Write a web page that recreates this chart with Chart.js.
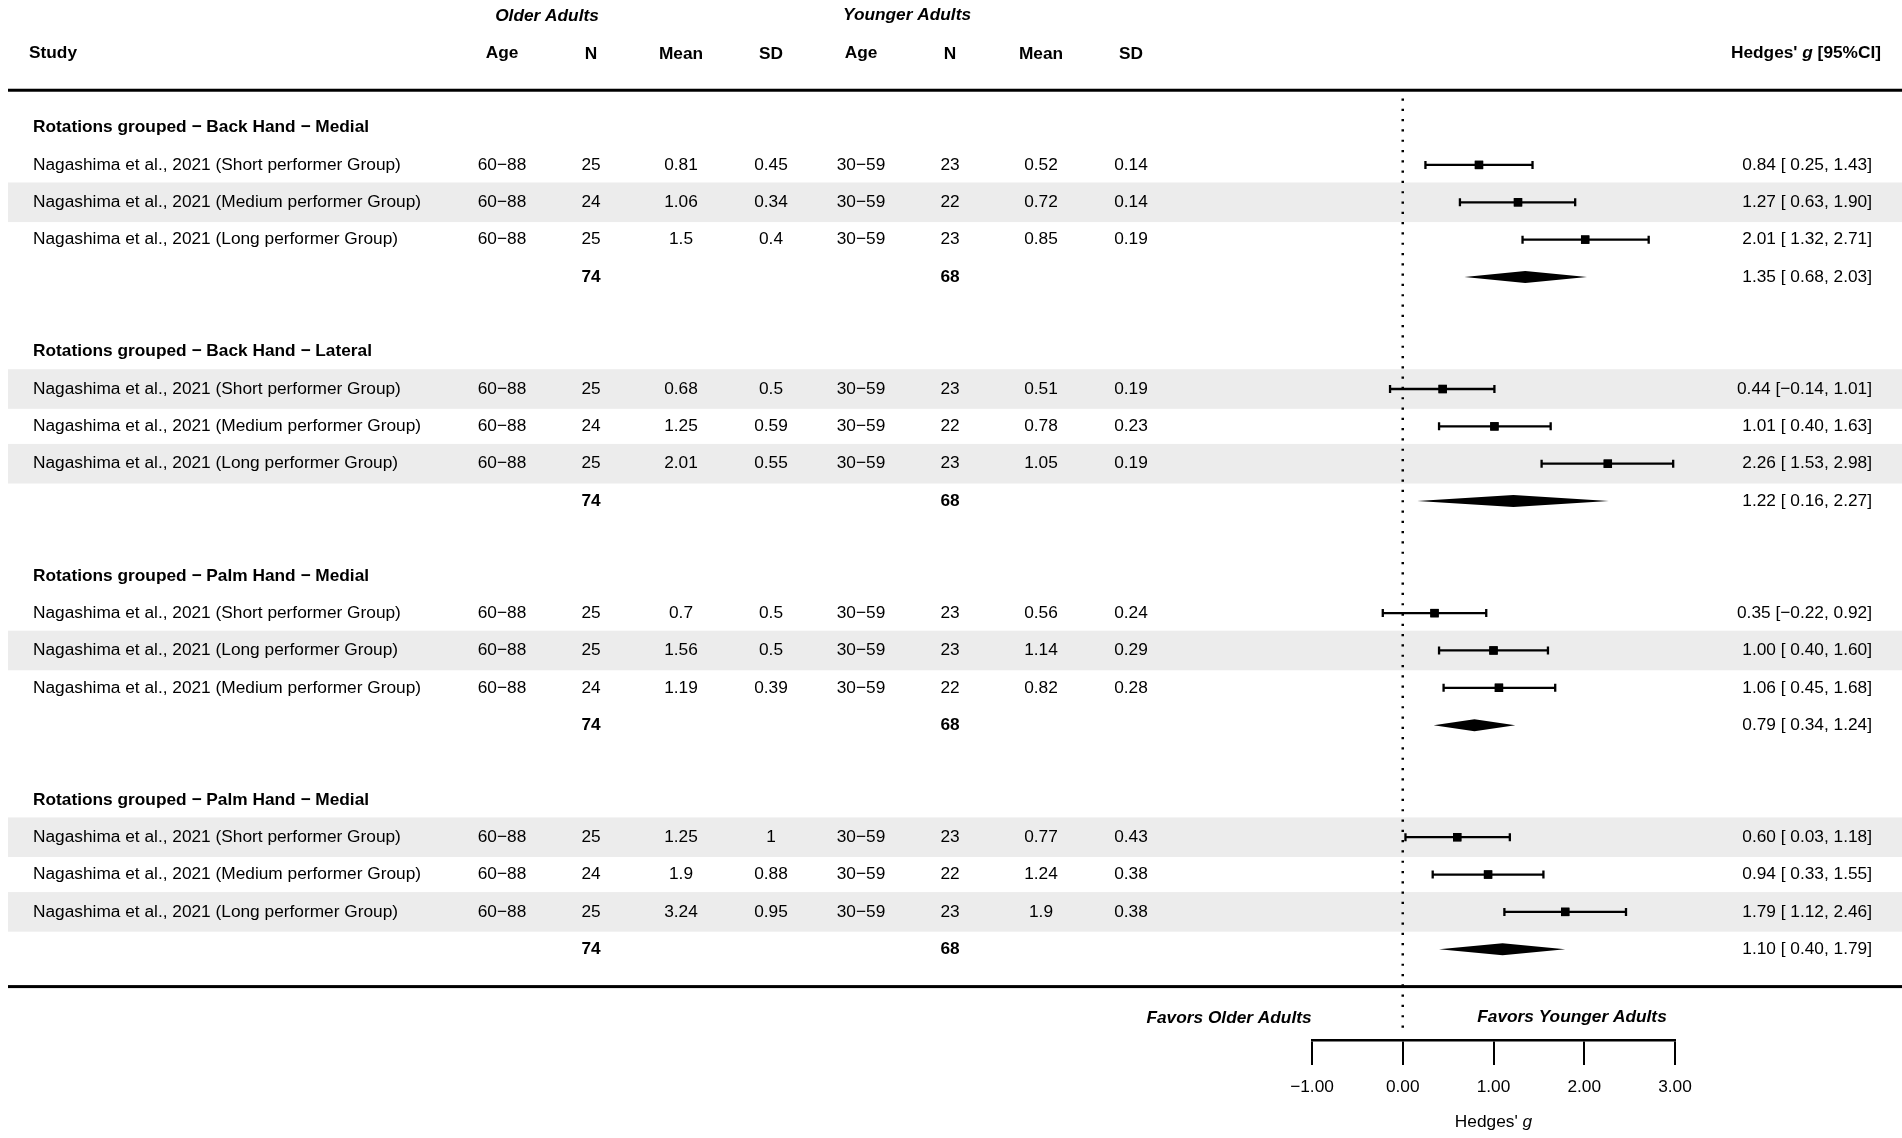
<!DOCTYPE html>
<html>
<head>
<meta charset="utf-8">
<script src="https://cdn.jsdelivr.net/npm/chart.js@4"></script>
<style>
  html, body { margin: 0; padding: 0; background: #fff; overflow: hidden; }
</style>
</head>
<body>
<canvas id="forest" width="1902" height="1138"></canvas>
<script>
// subgroup titles
const groups = [
  'Rotations grouped − Back Hand − Medial',
  'Rotations grouped − Back Hand − Lateral',
  'Rotations grouped − Palm Hand − Medial',
  'Rotations grouped − Palm Hand − Medial'
]

// one entry per study row, in order of the table
const studies = [
  'Nagashima et al., 2021 (Short performer Group)',
  'Nagashima et al., 2021 (Medium performer Group)',
  'Nagashima et al., 2021 (Long performer Group)',
  'Nagashima et al., 2021 (Short performer Group)',
  'Nagashima et al., 2021 (Medium performer Group)',
  'Nagashima et al., 2021 (Long performer Group)',
  'Nagashima et al., 2021 (Short performer Group)',
  'Nagashima et al., 2021 (Long performer Group)',
  'Nagashima et al., 2021 (Medium performer Group)',
  'Nagashima et al., 2021 (Short performer Group)',
  'Nagashima et al., 2021 (Medium performer Group)',
  'Nagashima et al., 2021 (Long performer Group)'
]
const olderAge = ['60−88', '60−88', '60−88', '60−88', '60−88', '60−88', '60−88', '60−88', '60−88', '60−88', '60−88', '60−88']
const olderN = [25, 24, 25, 25, 24, 25, 25, 25, 24, 25, 24, 25]
const olderMean = [0.81, 1.06, 1.5, 0.68, 1.25, 2.01, 0.7, 1.56, 1.19, 1.25, 1.9, 3.24]
const olderSD = [0.45, 0.34, 0.4, 0.5, 0.59, 0.55, 0.5, 0.5, 0.39, 1, 0.88, 0.95]
const youngerAge = ['30−59', '30−59', '30−59', '30−59', '30−59', '30−59', '30−59', '30−59', '30−59', '30−59', '30−59', '30−59']
const youngerN = [23, 22, 23, 23, 22, 23, 23, 23, 22, 23, 22, 23]
const youngerMean = [0.52, 0.72, 0.85, 0.51, 0.78, 1.05, 0.56, 1.14, 0.82, 0.77, 1.24, 1.9]
const youngerSD = [0.14, 0.14, 0.19, 0.19, 0.23, 0.19, 0.24, 0.29, 0.28, 0.43, 0.38, 0.38]
const hedgesG = [0.84, 1.27, 2.01, 0.44, 1.01, 2.26, 0.35, 1.00, 1.06, 0.60, 0.94, 1.79]
const ciLow = [0.25, 0.63, 1.32, -0.14, 0.40, 1.53, -0.22, 0.40, 0.45, 0.03, 0.33, 1.12]
const ciHigh = [1.43, 1.90, 2.71, 1.01, 1.63, 2.98, 0.92, 1.60, 1.68, 1.18, 1.55, 2.46]

// pooled estimates per subgroup
const pooledG = [1.35, 1.22, 0.79, 1.10]
const pooledLow = [0.68, 0.16, 0.34, 0.40]
const pooledHigh = [2.03, 2.27, 1.24, 1.79]
const totalOlderN = [74, 74, 74, 74]
const totalYoungerN = [68, 68, 68, 68]

const xTicks = [-1, 0, 1, 2, 3]

// layout
const FONT = 'Liberation Sans, Arial, sans-serif'
const FS = 17.3
const PERGROUP = 6
const colX = { age1: 502, n1: 591, mean1: 681, sd1: 771, age2: 861, n2: 950, mean2: 1041, sd2: 1131 }
const CI_RIGHT = 1872

const studyRow = i => Math.floor(i / 3) * PERGROUP + 1 + (i % 3)
const headRow = g => g * PERGROUP
const totalRow = g => g * PERGROUP + 4

function fmt(v) {
  return (v < 0 ? '−' : '') + Math.abs(v).toFixed(2)
}
function ciText(est, lo, hi) {
  return `${fmt(est)} [${lo < 0 ? '' : ' '}${fmt(lo)}, ${fmt(hi)}]`
}

// draws text pieces left to right, each with its own font
function drawRuns(ctx, runs, x, y, align) {
  let total = 0
  runs.forEach(r => { ctx.font = r.font; total += ctx.measureText(r.text).width })
  let cx = align === 'right' ? x - total : align === 'center' ? x - total / 2 : x
  ctx.textAlign = 'left'
  runs.forEach(r => {
    ctx.font = r.font
    ctx.fillText(r.text, cx, y)
    cx += ctx.measureText(r.text).width
  })
}

const forestPlugin = {
  id: 'forest',
  beforeDraw(chart) {
    const ctx = chart.ctx
    const ys = chart.scales.y
    ctx.save()
    ctx.fillStyle = '#ececec'
    studies.forEach((s, i) => {
      if (i % 2 === 1) {
        const top = ys.getPixelForValue(studyRow(i) - 0.53)
        const bot = ys.getPixelForValue(studyRow(i) + 0.53)
        ctx.fillRect(8, top, chart.width - 8, bot - top)
      }
    })
    // heavy rules above and below the table
    ctx.fillStyle = '#000'
    const yTop = ys.getPixelForValue(-1)
    const yBot = ys.getPixelForValue(totalRow(groups.length - 1) + 1)
    ctx.fillRect(8, yTop - 1.5, chart.width - 8, 3)
    ctx.fillRect(8, yBot - 1.5, chart.width - 8, 3)
    ctx.restore()
  },
  afterDatasetsDraw(chart) {
    const ctx = chart.ctx
    const xs = chart.scales.x
    const ys = chart.scales.y
    ctx.save()
    ctx.strokeStyle = '#000'
    ctx.fillStyle = '#000'
    ctx.lineWidth = 2.3
    studies.forEach((s, i) => {
      const y = ys.getPixelForValue(studyRow(i))
      const a = xs.getPixelForValue(ciLow[i])
      const b = xs.getPixelForValue(ciHigh[i])
      ctx.beginPath()
      ctx.moveTo(a, y); ctx.lineTo(b, y)
      ctx.moveTo(a, y - 4); ctx.lineTo(a, y + 4)
      ctx.moveTo(b, y - 4); ctx.lineTo(b, y + 4)
      ctx.stroke()
    })
    groups.forEach((g, k) => {
      const y = ys.getPixelForValue(totalRow(k))
      const a = xs.getPixelForValue(pooledLow[k])
      const m = xs.getPixelForValue(pooledG[k])
      const b = xs.getPixelForValue(pooledHigh[k])
      ctx.beginPath()
      ctx.moveTo(a, y); ctx.lineTo(m, y - 6); ctx.lineTo(b, y); ctx.lineTo(m, y + 6)
      ctx.closePath()
      ctx.fill()
    })
    // squares on top of the whiskers
    studies.forEach((s, i) => {
      const y = ys.getPixelForValue(studyRow(i))
      const x = xs.getPixelForValue(hedgesG[i])
      ctx.fillRect(x - 4.2, y - 4.2, 8.4, 8.4)
    })
    ctx.restore()
  },
  afterDraw(chart) {
    const ctx = chart.ctx
    const xs = chart.scales.x
    const ys = chart.scales.y
    const reg = `${FS}px ${FONT}`
    const bold = `bold ${FS}px ${FONT}`
    const boldIt = `italic bold ${FS}px ${FONT}`
    const ital = `italic ${FS}px ${FONT}`
    ctx.save()
    ctx.fillStyle = '#000'
    ctx.textBaseline = 'middle'

    // column headers
    const hy = 53
    ctx.font = boldIt
    ctx.textAlign = 'center'
    ctx.fillText('Older Adults', 547, 16)
    ctx.fillText('Younger Adults', 907, 15)
    ctx.font = bold
    ctx.textAlign = 'left'
    ctx.fillText('Study', 29, hy)
    ctx.textAlign = 'center'
    ctx.fillText('Age', colX.age1, hy)
    ctx.fillText('N', colX.n1, hy + 1)
    ctx.fillText('Mean', colX.mean1, hy + 1)
    ctx.fillText('SD', colX.sd1, hy + 1)
    ctx.fillText('Age', colX.age2, hy)
    ctx.fillText('N', colX.n2, hy + 1)
    ctx.fillText('Mean', colX.mean2, hy + 1)
    ctx.fillText('SD', colX.sd2, hy + 1)
    drawRuns(ctx, [
      { text: "Hedges' ", font: bold },
      { text: 'g', font: boldIt },
      { text: ' [95%CI]', font: bold }
    ], 1881, hy, 'right')

    groups.forEach((g, k) => {
      ctx.font = bold
      ctx.textAlign = 'left'
      ctx.fillText(g, 33, ys.getPixelForValue(headRow(k)))
      const ty = ys.getPixelForValue(totalRow(k))
      ctx.textAlign = 'center'
      ctx.fillText(String(totalOlderN[k]), colX.n1, ty)
      ctx.fillText(String(totalYoungerN[k]), colX.n2, ty)
      ctx.font = reg
      ctx.textAlign = 'right'
      ctx.fillText(ciText(pooledG[k], pooledLow[k], pooledHigh[k]), CI_RIGHT, ty)
    })

    ctx.font = reg
    studies.forEach((s, i) => {
      const y = ys.getPixelForValue(studyRow(i))
      ctx.textAlign = 'left'
      ctx.fillText(s, 33, y)
      ctx.textAlign = 'center'
      ctx.fillText(olderAge[i], colX.age1, y)
      ctx.fillText(String(olderN[i]), colX.n1, y)
      ctx.fillText(String(olderMean[i]), colX.mean1, y)
      ctx.fillText(String(olderSD[i]), colX.sd1, y)
      ctx.fillText(youngerAge[i], colX.age2, y)
      ctx.fillText(String(youngerN[i]), colX.n2, y)
      ctx.fillText(String(youngerMean[i]), colX.mean2, y)
      ctx.fillText(String(youngerSD[i]), colX.sd2, y)
      ctx.textAlign = 'right'
      ctx.fillText(ciText(hedgesG[i], ciLow[i], ciHigh[i]), CI_RIGHT, y)
    })

    // favours labels and axis title
    ctx.font = boldIt
    ctx.textAlign = 'center'
    ctx.fillText('Favors Older Adults', 1229, 1018)
    ctx.fillText('Favors Younger Adults', 1572, 1017)
    drawRuns(ctx, [
      { text: "Hedges' ", font: reg },
      { text: 'g', font: ital }
    ], xs.getPixelForValue(1), 1122, 'center')
    ctx.restore()
  }
}

const refLine = [{ x: 0, y: -0.78 }, { x: 0, y: 24.3 }]
const points = hedgesG.map((g, i) => ({ x: g, y: studyRow(i) }))

new Chart(document.getElementById('forest').getContext('2d'), {
  type: 'scatter',
  data: {
    datasets: [
      {
        type: 'line',
        data: refLine,
        borderColor: '#000',
        borderWidth: 2.5,
        borderDash: [2.2, 8.1],
        pointRadius: 0,
        fill: false
      },
      {
        label: 'Hedges g',
        data: points,
        pointStyle: 'rect',
        pointRadius: 5.9,
        backgroundColor: '#000',
        borderWidth: 0
      }
    ]
  },
  options: {
    responsive: false,
    animation: false,
    devicePixelRatio: 1,
    layout: { autoPadding: false, padding: { left: 1312, right: 227, top: 0, bottom: 0 } },
    plugins: { legend: { display: false }, tooltip: { enabled: false } },
    scales: {
      x: {
        type: 'linear',
        min: -1,
        max: 3,
        afterFit: scale => { scale.height = 98 },
        afterBuildTicks: scale => { scale.ticks = xTicks.map(v => ({ value: v })) },
        ticks: {
          color: '#000',
          padding: 12,
          autoSkip: false,
          maxRotation: 0,
          font: { family: FONT, size: FS },
          callback: v => fmt(v)
        },
        grid: { drawOnChartArea: false, drawTicks: true, tickLength: 25, color: '#000', lineWidth: 2 },
        border: { display: true, color: '#000', width: 2.5 }
      },
      y: {
        type: 'linear',
        display: false,
        reverse: true,
        min: -3.416,
        max: 24.43
      }
    }
  },
  plugins: [forestPlugin]
})
</script>
</body>
</html>
